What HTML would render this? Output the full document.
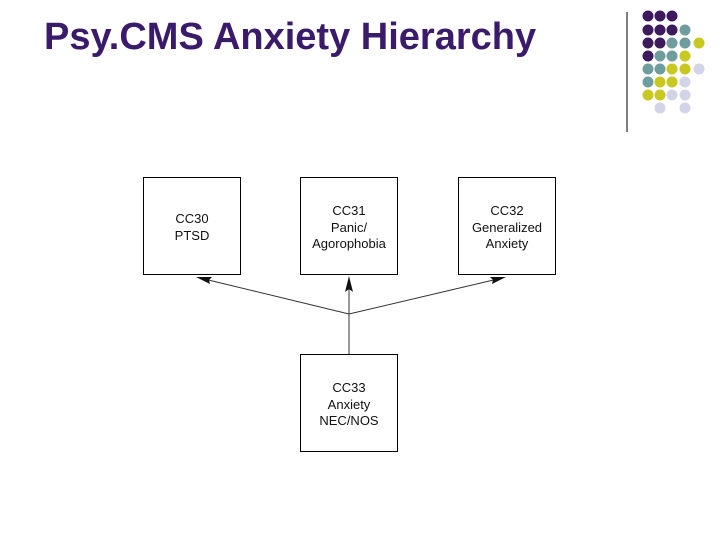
<!DOCTYPE html>
<html><head><style>
body{margin:0;width:720px;height:540px;background:#fff;overflow:hidden;position:relative;font-family:"Liberation Sans",sans-serif}
h1{position:absolute;left:44px;top:16px;margin:0;font-size:38px;font-weight:bold;color:#3a1a6a;white-space:nowrap}
.b{position:absolute;width:96px;height:96px;border:1px solid #000;text-align:center;font-size:13px;line-height:16.5px;color:#111}
</style></head><body>
<h1>Psy.CMS Anxiety Hierarchy</h1>
<svg width="720" height="540" style="position:absolute;left:0;top:0">
<line x1="627" y1="12" x2="627" y2="132" stroke="#000" stroke-width="1"/>
<g>
<circle cx="648" cy="16" r="5.5" fill="#3d1a5e"/><circle cx="660" cy="16" r="5.5" fill="#3d1a5e"/><circle cx="672" cy="16" r="5.5" fill="#3d1a5e"/>
<circle cx="648" cy="30" r="5.5" fill="#3d1a5e"/><circle cx="660" cy="30" r="5.5" fill="#3d1a5e"/><circle cx="672" cy="30" r="5.5" fill="#3d1a5e"/><circle cx="685" cy="30" r="5.5" fill="#6f9c9c"/>
<circle cx="648" cy="43" r="5.5" fill="#3d1a5e"/><circle cx="660" cy="43" r="5.5" fill="#3d1a5e"/><circle cx="672" cy="43" r="5.5" fill="#6f9c9c"/><circle cx="685" cy="43" r="5.5" fill="#6f9c9c"/><circle cx="699" cy="43" r="5.5" fill="#c8c820"/>
<circle cx="648" cy="56" r="5.5" fill="#3d1a5e"/><circle cx="660" cy="56" r="5.5" fill="#6f9c9c"/><circle cx="672" cy="56" r="5.5" fill="#6f9c9c"/><circle cx="685" cy="56" r="5.5" fill="#c8c820"/>
<circle cx="648" cy="69" r="5.5" fill="#6f9c9c"/><circle cx="660" cy="69" r="5.5" fill="#6f9c9c"/><circle cx="672" cy="69" r="5.5" fill="#c8c820"/><circle cx="685" cy="69" r="5.5" fill="#c8c820"/><circle cx="699" cy="69" r="5.5" fill="#d4d4e8"/>
<circle cx="648" cy="82" r="5.5" fill="#6f9c9c"/><circle cx="660" cy="82" r="5.5" fill="#c8c820"/><circle cx="672" cy="82" r="5.5" fill="#c8c820"/><circle cx="685" cy="82" r="5.5" fill="#d4d4e8"/>
<circle cx="648" cy="95" r="5.5" fill="#c8c820"/><circle cx="660" cy="95" r="5.5" fill="#c8c820"/><circle cx="672" cy="95" r="5.5" fill="#d4d4e8"/><circle cx="685" cy="95" r="5.5" fill="#d4d4e8"/>
<circle cx="660" cy="108" r="5.5" fill="#d4d4e8"/><circle cx="685" cy="108" r="5.5" fill="#d4d4e8"/>
</g>
<g stroke="#333" stroke-width="1" fill="none">
<line x1="349" y1="354" x2="349" y2="280"/>
<line x1="349" y1="314" x2="200" y2="278"/>
<line x1="349" y1="314" x2="502" y2="278"/>
</g>
<g fill="#111">
<polygon points="349,276 345,292 349,289 353,292"/>
<polygon points="196,277 212,277 209,280 210,284"/>
<polygon points="506,277 490,277 493,280 492,284"/>
</g>
</svg>
<div class="b" style="left:143px;top:177px"><div style="margin-top:33px">CC30<br>PTSD</div></div>
<div class="b" style="left:300px;top:177px"><div style="margin-top:25px">CC31<br>Panic/<br>Agorophobia</div></div>
<div class="b" style="left:458px;top:177px"><div style="margin-top:25px">CC32<br>Generalized<br>Anxiety</div></div>
<div class="b" style="left:300px;top:354px"><div style="margin-top:25px">CC33<br>Anxiety<br>NEC/NOS</div></div>
</body></html>
